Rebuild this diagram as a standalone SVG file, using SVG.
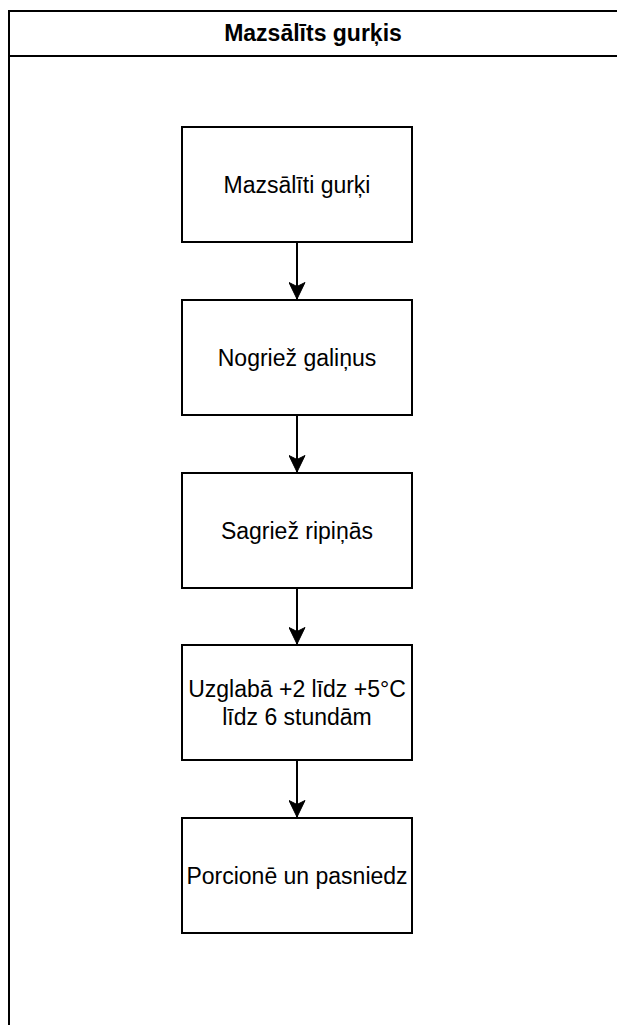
<svg xmlns="http://www.w3.org/2000/svg" width="617" height="1025" viewBox="0 0 617 1025">
  <style>
    .lane { fill: #ffffff; stroke: #000000; stroke-width: 2; }
    .box { fill: #ffffff; stroke: #000000; stroke-width: 2; }
    .title { font-family: "Liberation Sans", Arial, sans-serif; font-size: 23px; font-weight: bold; fill: #000000; text-anchor: middle; }
    .label { font-family: "Liberation Sans", Arial, sans-serif; font-size: 23px; fill: #000000; text-anchor: middle; }
    .edge { fill: none; stroke: #000000; stroke-width: 2; }
  </style>
  <defs>
    <marker id="arrow" markerUnits="userSpaceOnUse" markerWidth="18" markerHeight="17" viewBox="0 0 18 17" refX="17" refY="8.5" orient="auto">
      <path d="M17,8.5 L0.5,0.5 L4.5,8.5 L0.5,16.5 Z" fill="#000000" stroke="#000000" stroke-width="1"/>
    </marker>
  </defs>

  <rect width="617" height="1025" fill="#ffffff"/>

  <!-- swimlane container -->
  <g id="lane">
    <rect class="lane" x="9" y="11" width="620" height="1030"/>
    <line x1="9" y1="56" x2="629" y2="56" stroke="#000000" stroke-width="2"/>
    <text class="title" x="313" y="41">Mazsālīts gurķis</text>
  </g>

  <!-- process steps -->
  <g id="step1">
    <rect class="box" x="182" y="127" width="230" height="115"/>
    <text class="label" x="297" y="193">Mazsālīti gurķi</text>
  </g>
  <g id="step2">
    <rect class="box" x="182" y="300" width="230" height="115"/>
    <text class="label" x="297" y="366">Nogriež galiņus</text>
  </g>
  <g id="step3">
    <rect class="box" x="182" y="473" width="230" height="115"/>
    <text class="label" x="297" y="539">Sagriež ripiņās</text>
  </g>
  <g id="step4">
    <rect class="box" x="182" y="645" width="230" height="115"/>
    <text class="label" x="297" y="697">Uzglabā +2 līdz +5°C</text>
    <text class="label" x="297" y="725">līdz 6 stundām</text>
  </g>
  <g id="step5">
    <rect class="box" x="182" y="818" width="230" height="115"/>
    <text class="label" x="297" y="884">Porcionē un pasniedz</text>
  </g>

  <!-- connectors -->
  <g id="connectors">
    <line class="edge" x1="297" y1="242" x2="297" y2="299" marker-end="url(#arrow)"/>
    <line class="edge" x1="297" y1="415" x2="297" y2="472" marker-end="url(#arrow)"/>
    <line class="edge" x1="297" y1="588" x2="297" y2="644" marker-end="url(#arrow)"/>
    <line class="edge" x1="297" y1="760" x2="297" y2="817" marker-end="url(#arrow)"/>
  </g>
</svg>
